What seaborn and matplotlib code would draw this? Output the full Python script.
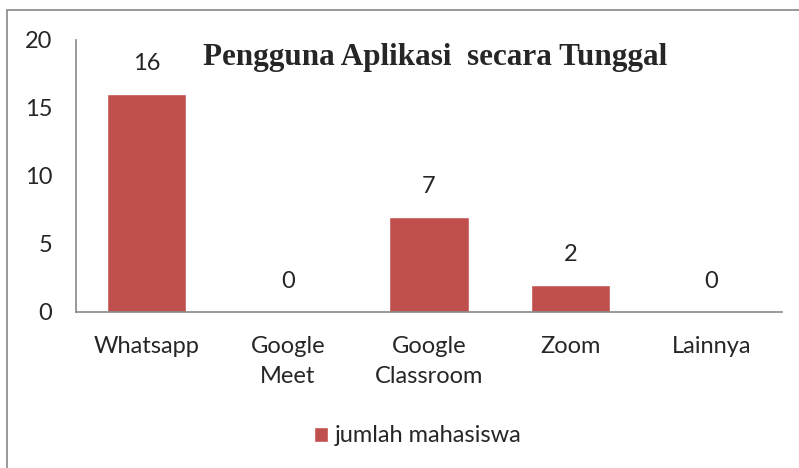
import matplotlib
matplotlib.use("Agg")
import matplotlib.pyplot as plt
import seaborn as sns
import pandas as pd
from matplotlib.patches import Rectangle

# -----------------------------
# Data
# -----------------------------
apps = ["Whatsapp", "Google\nMeet", "Google\nClassroom", "Zoom", "Lainnya"]
jumlah = [16, 0, 7, 2, 0]
series_name = "jumlah mahasiswa"
title = "Pengguna Aplikasi  secara Tunggal"

df = pd.DataFrame({"app": apps, "jumlah": jumlah, "seri": series_name})

# -----------------------------
# Plot
# -----------------------------
sns.set_style("white")
plt.rcParams["font.family"] = ["Lato", "DejaVu Sans"]

BAR_COLOR = "#C0504D"
FS = 17

fig = plt.figure(figsize=(7.99, 4.68), dpi=100)
ax = fig.add_axes([76 / 799, 1 - 312 / 468, (782 - 76) / 799, (312 - 40) / 468])

sns.barplot(data=df, x="app", y="jumlah", hue="seri", palette=[BAR_COLOR],
            width=0.56, ax=ax, saturation=1)

ax.set_ylim(0, 20)
ax.set_yticks([0, 5, 10, 15, 20])
ax.set_xlim(-0.5, len(apps) - 0.5)
ax.set_xlabel("")
ax.set_ylabel("")
ax.tick_params(axis="y", length=0, pad=17, labelsize=FS)
ax.tick_params(axis="x", length=0, pad=17, labelsize=FS)
for lbl in ax.get_xticklabels():
    lbl.set_linespacing(1.55)

for side in ["top", "right"]:
    ax.spines[side].set_visible(False)
for side in ["left", "bottom"]:
    ax.spines[side].set_color("#888888")
    ax.spines[side].set_linewidth(1.2)

# value labels above bars
for i, v in enumerate(jumlah):
    ax.annotate(str(v), (i, v), xytext=(0, 22), textcoords="offset points",
                ha="center", va="center", fontsize=FS)

ax.text(0.508, 0.935, title, transform=ax.transAxes, ha="center", va="center",
        fontsize=22.4, fontweight="bold", family="Liberation Serif")

leg = ax.legend(loc="center", bbox_to_anchor=(418 / 799, 1 - 436 / 468),
                bbox_transform=fig.transFigure, frameon=False, fontsize=FS,
                handlelength=0.6, handleheight=0.6, handletextpad=0.3)

# outer chart border
fig.patches.append(Rectangle((7 / 799, -0.1), 1.2, 1 - 10 / 468 + 0.1,
                             transform=fig.transFigure, fill=False,
                             edgecolor="#888888", linewidth=1.2))

fig.savefig("out.png", dpi=100)
